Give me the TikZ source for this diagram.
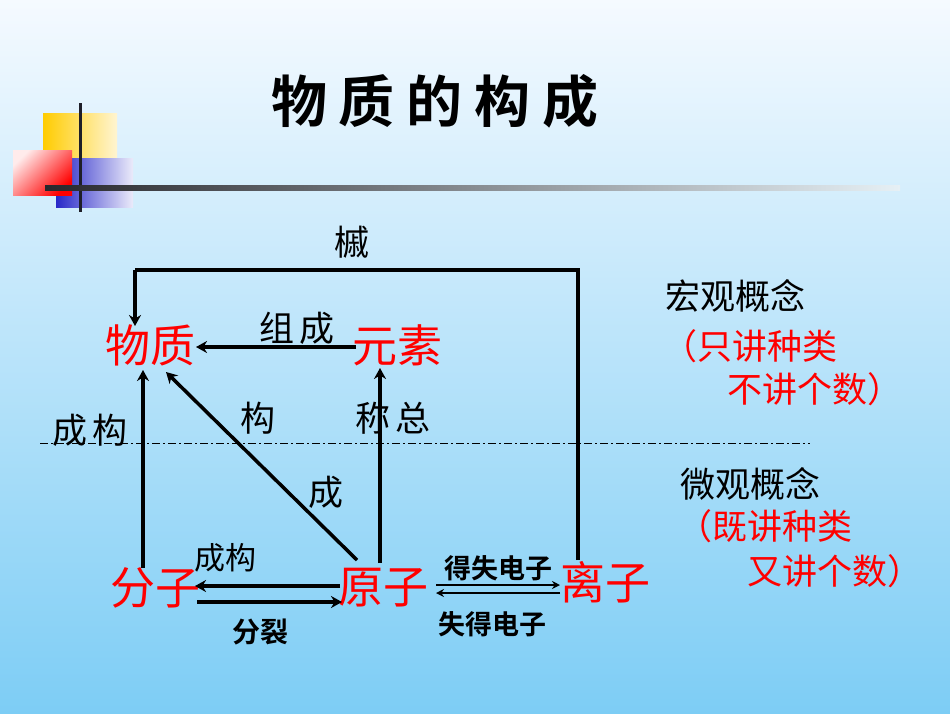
\documentclass[tikz,border=0pt]{standalone}
\usepackage{fontspec}
\setmainfont{Noto Sans CJK SC}
\newfontfamily\cjkb{Noto Sans CJK SC Bold}
\usetikzlibrary{arrows.meta}
\begin{document}
\begin{tikzpicture}[x=1pt,y=-1pt,
  red/.style={text=red,font=\fontsize{45}{45}\selectfont,inner sep=0pt},
  lab/.style={font=\fontsize{35}{35}\selectfont,inner sep=0pt},
  blab/.style={font=\cjkb\fontsize{27}{27}\selectfont,inner sep=0pt},
  redlab/.style={text=red,font=\fontsize{35}{35}\selectfont,inner sep=0pt},
  ln/.style={line width=3.5pt},
  arr/.style={line width=3.5pt,-{Stealth[length=11pt,width=12pt]}}]
\shade[top color={rgb,255:red,245;green,250;blue,255},bottom color={rgb,255:red,125;green,205;blue,245}] (0,0) rectangle (950,713);
\useasboundingbox (0,0) rectangle (950,713);
% decoration
\shade[left color={rgb,255:red,255;green,204;blue,0},right color={rgb,255:red,255;green,245;blue,210}] (43,113) rectangle (117,158);
\shade[left color={rgb,255:red,40;green,40;blue,200},right color={rgb,255:red,235;green,235;blue,250}] (56,158) rectangle (133,207);
\shade[left color={rgb,255:red,255;green,235;blue,235},right color=red,shading angle=45] (13,150) rectangle (72,195);
\draw[line width=3pt,color={rgb,255:red,30;green,30;blue,40}] (80,103) -- (80,212);
\shade[left color={rgb,255:red,40;green,40;blue,45},right color={rgb,255:red,230;green,240;blue,245}] (45,185) rectangle (900,190);
% title
\node[font=\cjkb\fontsize{56}{56}\selectfont,inner sep=0pt] (title) at (435,101) {物\hspace{12pt}质\hspace{12pt}的\hspace{12pt}构\hspace{12pt}成};
% main nodes
\node[red] (wz) at (150,345) {物质};
\node[red] (ys) at (397,345) {元素};
\node[red] (fz) at (155,588) {分子};
\node[red] (yz) at (383,588) {原子};
\node[red] (lz) at (605,582) {离子};
% dash-dot line
\coordinate (d1) at (40,443); \coordinate (d2) at (810,443);
\draw[line width=1pt,dash pattern=on 8pt off 3pt on 2pt off 3pt] (d1) -- (d2);
% connectors
\coordinate (t1) at (578,560); \coordinate (t2) at (578,270); \coordinate (t3) at (135,270); \coordinate (t4) at (135,326);
\draw[ln] (t1) -- (t2) -- (t3);
\draw[arr] (t3) -- (t4);
\coordinate (a1) at (356,347); \coordinate (a2) at (196,347);
\draw[arr] (a1) -- (a2);
\coordinate (v1) at (143,568); \coordinate (v2) at (143,370);
\draw[arr] (v1) -- (v2);
\coordinate (v3) at (380,563); \coordinate (v4) at (380,368);
\draw[arr] (v3) -- (v4);
\coordinate (g1) at (357,560); \coordinate (g2) at (166,372);
\draw[arr] (g1) -- (g2);
\coordinate (b1) at (340,586); \coordinate (b2) at (195,586);
\draw[arr] (b1) -- (b2);
\coordinate (b3) at (197,602); \coordinate (b4) at (342,602);
\draw[arr] (b3) -- (b4);
\coordinate (e1) at (436,585); \coordinate (e2) at (560,585);
\draw[line width=2.5pt,-{Stealth[length=8pt,width=8pt]}] (e1) -- (e2);
\coordinate (e3) at (560,593); \coordinate (e4) at (436,593);
\draw[line width=2.5pt,-{Stealth[length=8pt,width=8pt]}] (e3) -- (e4);
% labels
\node[lab] (l1) at (352,242) {槭};
\node[lab] (l2) at (297,328) {组\hspace{6pt}成};
\node[lab] (l3) at (258,418) {构};
\node[lab] (l4) at (393,418) {称\hspace{6pt}总};
\node[lab] (l5) at (90,430) {成\hspace{6pt}构};
\node[lab] (l6) at (326,492) {成};
\node[lab,font=\fontsize{31}{31}\selectfont] (l7) at (225,558) {成构};
\node[blab,font=\cjkb\fontsize{28}{28}\selectfont] (l8) at (260,632) {分裂};
\node[blab] (l9) at (498,568) {得失电子};
\node[blab] (l10) at (492,624) {失得电子};
\node[lab] (r1) at (735,296) {宏观概念};
\node[redlab] (r2) at (750,346) {（只讲种类};
\node[redlab] (r3) at (815,389) {不讲个数）};
\node[lab] (r4) at (750,484) {微观概念};
\node[redlab] (r5) at (765,526) {（既讲种类};
\node[redlab] (r6) at (835,571) {又讲个数）};
\end{tikzpicture}
\end{document}
